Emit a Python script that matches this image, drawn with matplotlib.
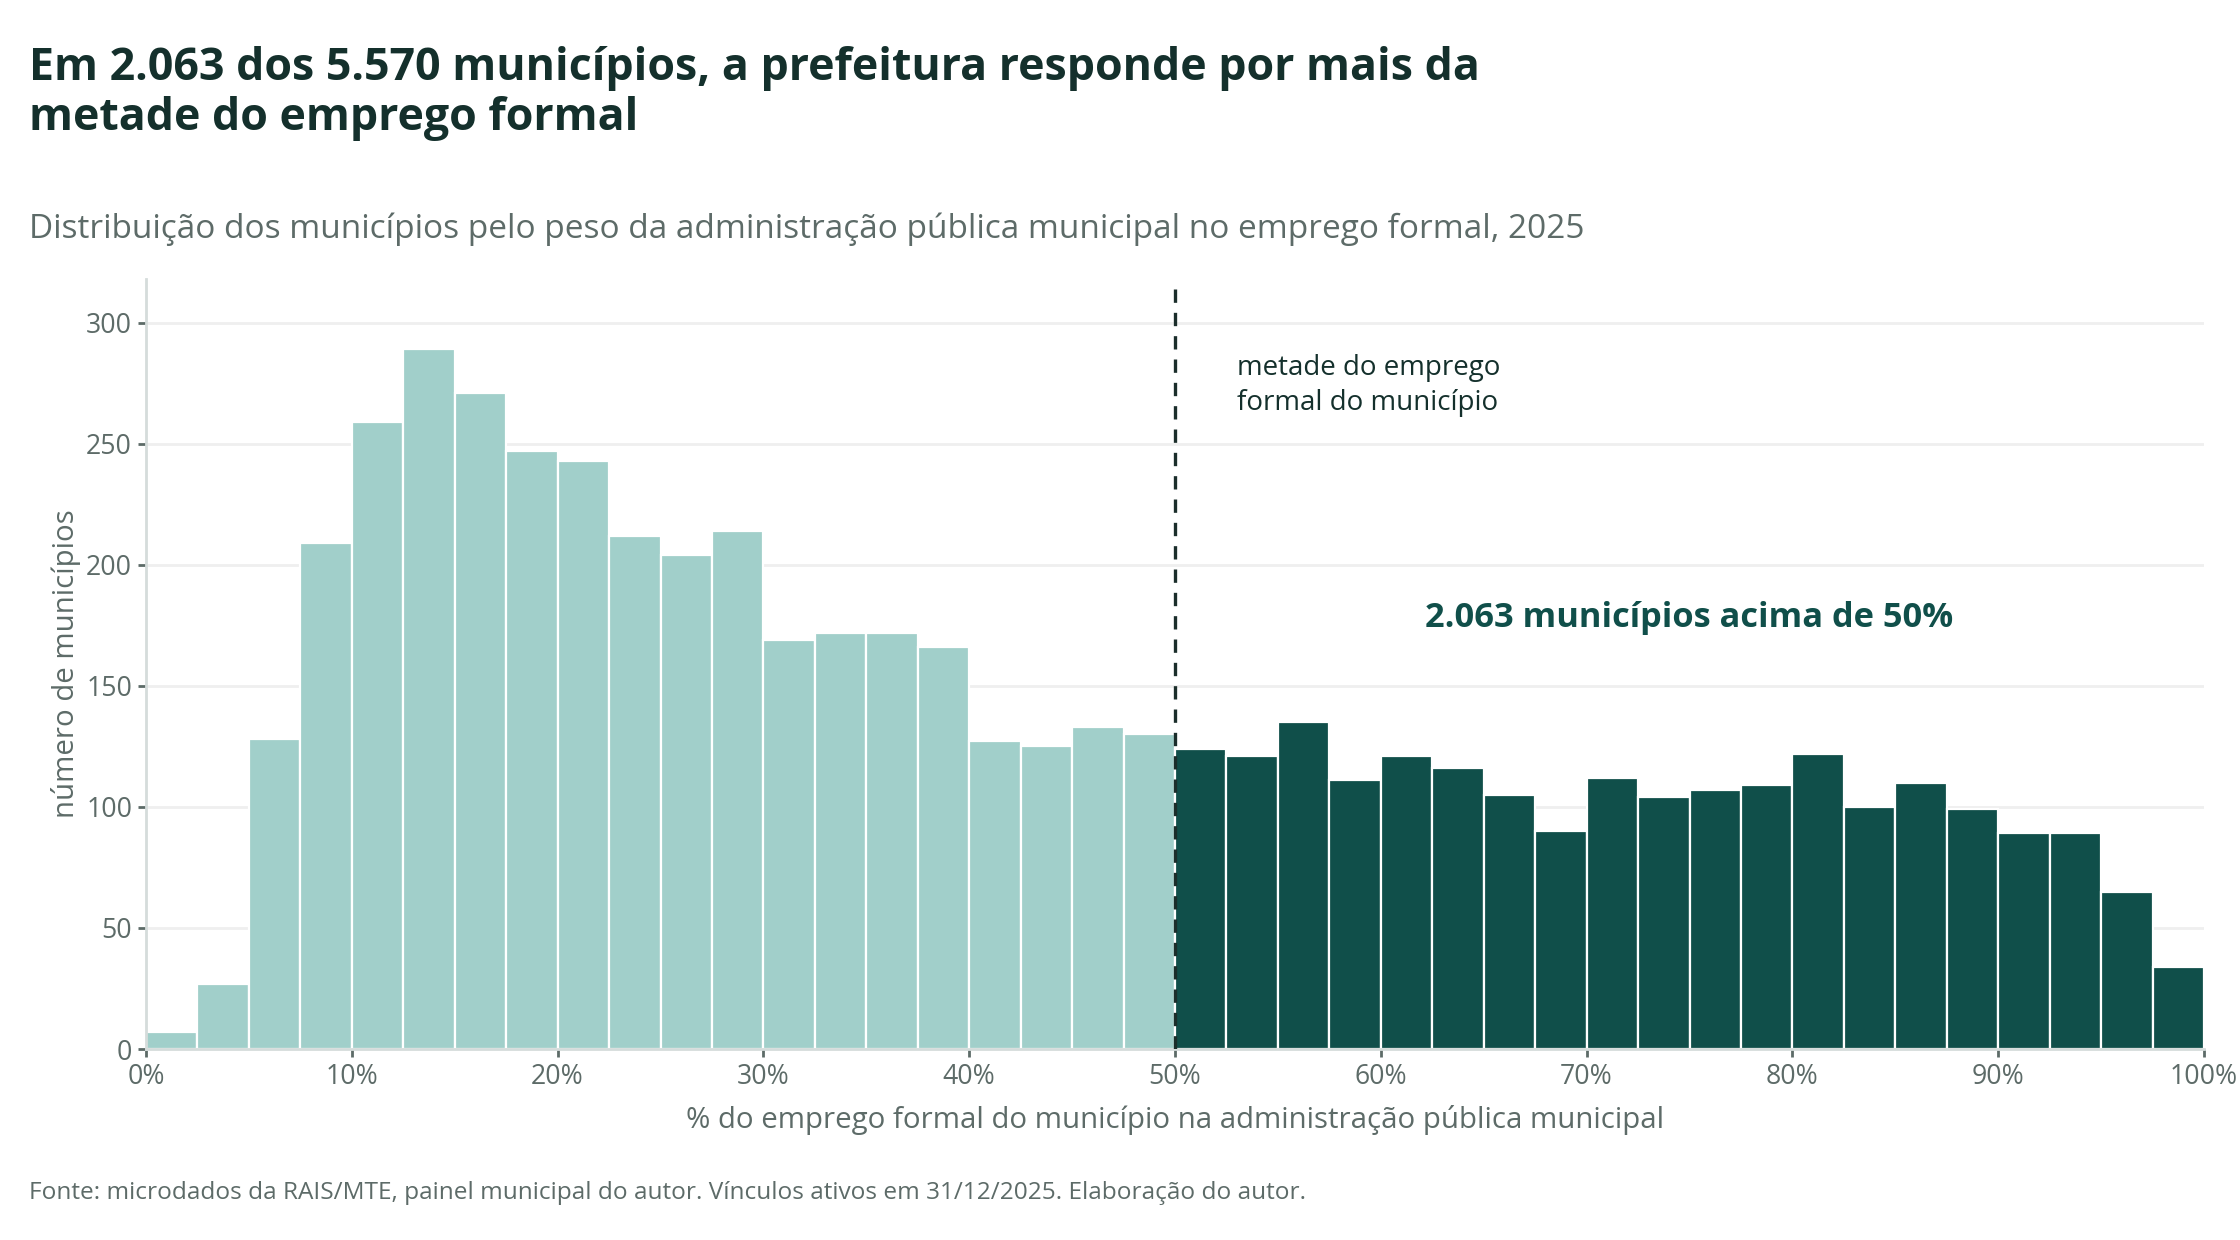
import numpy as np
import matplotlib.pyplot as plt

plt.rcParams['font.family'] = ['Open Sans', 'DejaVu Sans']

# histograma: classes de 2,5 p.p. de 0% a 100%
bin_left = np.arange(0, 100, 2.5)
contagem = [7, 27, 128, 209, 259, 289, 271, 247, 243, 212,
            204, 214, 169, 172, 172, 166, 127, 125, 133, 130,
            124, 121, 135, 111, 121, 116, 105, 90, 112, 104,
            107, 109, 122, 100, 110, 99, 89, 89, 65, 34]
limiar = 50

cor_clara = '#a1cfca'
cor_escura = '#104f4a'
cor_texto = '#14302c'
cor_cinza = '#5d6b68'

fig = plt.figure(figsize=(11.2, 6.2), dpi=200)
ax = fig.add_axes([146/2240, 1 - 1049/1240, (2204-146)/2240, (1049-279)/1240])

cores = [cor_escura if x >= limiar else cor_clara for x in bin_left]
ax.bar(bin_left, contagem, width=2.5, align='edge', color=cores,
       edgecolor='white', linewidth=0.8, zorder=2)

ax.axvline(limiar, color='#1b2e2b', linestyle=(0, (4, 3)), linewidth=1.2, zorder=3)

ax.set_xlim(0, 100)
ax.set_ylim(0, 318)
ax.set_yticks([0, 50, 100, 150, 200, 250, 300])
ax.set_xticks(range(0, 101, 10))
ax.set_xticklabels([f'{v}%' for v in range(0, 101, 10)])
ax.grid(axis='y', color='#efefef', linewidth=1.0, zorder=0)
ax.set_axisbelow(True)
for s in ['top', 'right']:
    ax.spines[s].set_visible(False)
ax.spines['left'].set_color('#d5dcdb')
ax.spines['bottom'].set_color('#d5dcdb')
ax.spines['left'].set_linewidth(1.0)
ax.spines['bottom'].set_linewidth(1.0)
ax.tick_params(colors=cor_cinza, labelsize=9.6, length=3, width=1.0, pad=2)

ax.set_xlabel('% do emprego formal do município na administração pública municipal',
              color=cor_cinza, fontsize=10.6, labelpad=5)
ax.set_ylabel('número de municípios', color=cor_cinza, fontsize=10.6, labelpad=2)

ax.text(53, 274, 'metade do emprego\nformal do município', fontsize=10,
        color=cor_texto, va='center', ha='left', linespacing=1.3)
ax.text(75, 178, '2.063 municípios acima de 50%', fontsize=12.4, fontweight='bold',
        color=cor_escura, va='center', ha='center')

fig.text(29/2240, 1 - 46/1240,
         'Em 2.063 dos 5.570 municípios, a prefeitura responde por mais da\nmetade do emprego formal',
         fontsize=16.1, fontweight='bold', color=cor_texto, va='top', ha='left', linespacing=1.15)
fig.text(29/2240, 1 - 229/1240,
         'Distribuição dos municípios pelo peso da administração pública municipal no emprego formal, 2025',
         fontsize=12, color=cor_cinza, va='center', ha='left')
fig.text(29/2240, 1 - 1193/1240,
         'Fonte: microdados da RAIS/MTE, painel municipal do autor. Vínculos ativos em 31/12/2025. Elaboração do autor.',
         fontsize=8.8, color=cor_cinza, va='center', ha='left')

fig.savefig('out.png', dpi=200, facecolor='white')
